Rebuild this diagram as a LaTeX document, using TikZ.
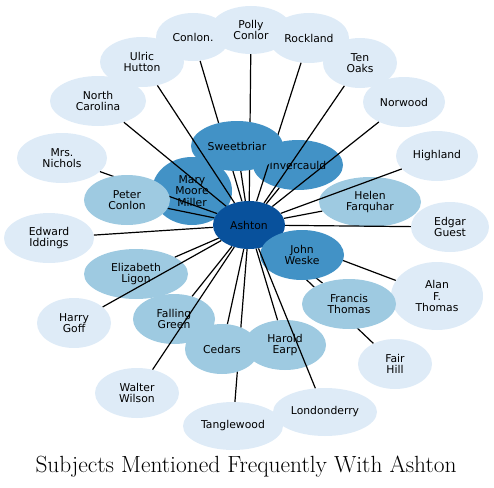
\documentclass[tikz,border=0pt]{standalone}
\usepackage{fontspec}
\newfontfamily\dejavu{DejaVu Sans}
\usetikzlibrary{shapes.geometric}
\definecolor{cA}{HTML}{DEEBF7}
\definecolor{cB}{HTML}{9ECAE1}
\definecolor{cC}{HTML}{4292C6}
\definecolor{cD}{HTML}{08519C}
\pgfdeclarelayer{e0}
\pgfdeclarelayer{n0}
\pgfdeclarelayer{n1}
\pgfdeclarelayer{e1}
\pgfdeclarelayer{n2}
\pgfsetlayers{e0,n0,n1,e1,n2,main}
\tikzset{
  bub/.style={ellipse, inner sep=0pt, align=center, text=black,
    font=\dejavu\fontsize{10.8}{11.7}\selectfont},
  lt/.style={bub, fill=cA},
  md/.style={bub, fill=cB},
  dk/.style={bub, fill=cC},
  hub/.style={bub, fill=cD},
  sz/.style 2 args={minimum width=#1pt, minimum height=#2pt},
  link/.style={draw=black, line width=1.2pt},
  ttl/.style={font=\fontsize{23.4}{27}\selectfont, anchor=base, inner sep=0pt}
}
\begin{document}
\begin{tikzpicture}[x=1pt, y=-1pt]
\useasboundingbox (0,0) rectangle (494,487);
\begin{pgfonlayer}{n0}
\node[lt, sz={74}{48}] (conlon) at (193,37) {Conlon.};
\node[lt, sz={82}{48}] (polly) at (251,30) {Polly\\Conlor};
\node[lt, sz={80}{50}] (rockland) at (309,38) {Rockland};
\node[lt, sz={74}{50}] (tenoaks) at (360,63) {Ten\\Oaks};
\node[lt, sz={82}{50}] (norwood) at (404,102) {Norwood};
\node[lt, sz={82}{50}] (highland) at (437,156) {Highland};
\node[lt, sz={78}{50}] (edgar) at (450,227) {Edgar\\Guest};
\node[lt, sz={92}{68}] (alan) at (437,296) {Alan\\F.\\Thomas};
\node[lt, sz={74}{50}] (fairhill) at (395,364) {Fair\\Hill};
\node[lt, sz={104}{48}] (london) at (325,412) {Londonderry};
\node[lt, sz={100}{48}] (tangle) at (233,426) {Tanglewood};
\node[lt, sz={84}{50}] (walter) at (137,393) {Walter\\Wilson};
\node[lt, sz={74}{50}] (harry) at (74,323) {Harry\\Goff};
\node[lt, sz={90}{50}] (edward) at (49,238) {Edward\\Iddings};
\node[lt, sz={90}{50}] (nichols) at (62,158) {Mrs.\\Nichols};
\node[lt, sz={96}{50}] (ncar) at (98,101) {North\\Carolina};
\node[lt, sz={84}{50}] (ulric) at (142,62) {Ulric\\Hutton};
\end{pgfonlayer}
\begin{pgfonlayer}{n1}
\node[dk, sz={90}{50}] (inver) at (298,165) {Invercauld};
\node[dk, sz={80}{68}] (mary) at (192,191) {Mary\\Moore\\Miller};
\node[md, sz={104}{50}] (eliz) at (136,274) {Elizabeth\\Ligon};
\node[md, sz={82}{50}] (falling) at (174,319) {Falling\\Green};
\node[md, sz={74}{50}] (cedars) at (222,349) {Cedars};
\node[md, sz={82}{50}] (harold) at (285,345) {Harold\\Earp};
\node[md, sz={102}{50}] (helen) at (370,202) {Helen\\Farquhar};
\end{pgfonlayer}
\begin{pgfonlayer}{n2}
\node[dk, sz={92}{50}] (sweet) at (237,146) {Sweetbriar};
\node[md, sz={86}{50}] (peter) at (127,200) {Peter\\Conlon};
\node[hub, sz={72}{48}] (ashton) at (249,225) {Ashton};
\node[dk, sz={84}{50}] (john) at (302,255) {John\\Weske};
\node[md, sz={94}{50}] (francis) at (349,304) {Francis\\Thomas};
\end{pgfonlayer}
\begin{pgfonlayer}{e0}
\foreach \t in {conlon, polly, tangle, alan, fairhill, francis, mary, john}
  \draw[link] (ashton) -- (\t);
\end{pgfonlayer}
\begin{pgfonlayer}{e1}
\foreach \t in {rockland, nichols}
  \draw[link] (ashton) -- (\t);
\end{pgfonlayer}
\foreach \t in {ulric, ncar, peter, edward, eliz, harry, walter, falling, cedars, harold, london, helen, highland, edgar, norwood, tenoaks, inver, sweet}
  \draw[link] (ashton) -- (\t);
\node[ttl] (title) at (246,472) {Subjects Mentioned Frequently With Ashton};
\end{tikzpicture}
\end{document}
